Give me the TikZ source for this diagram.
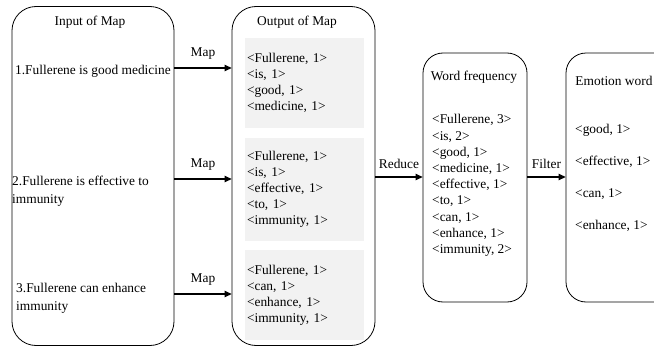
\documentclass[tikz,border=0pt]{standalone}
\usepackage{fontspec}
\setmainfont{Liberation Serif}
\usetikzlibrary{arrows.meta,positioning,calc}
\definecolor{boxline}{HTML}{000000}
\definecolor{pairgray}{HTML}{F2F2F2}
\tikzset{
  >={Triangle[length=7pt,width=6.5pt]},
  % kolumner
  col/.style={draw=boxline,line width=0.8pt,rounded corners=24pt,fill=white},
  colsm/.style={draw=boxline,line width=0.8pt,rounded corners=20pt,fill=white},
  ttl/.style={font=\fontsize{13.4}{16}\selectfont,inner sep=0pt},
  sent/.style={font=\fontsize{13.4}{18.5}\selectfont,align=left,inner sep=0pt,anchor=west},
  pairs/.style={fill=pairgray,draw=none,text width=115pt,inner xsep=2pt,
                align=left,font=\fontsize{13.4}{16}\selectfont},
  plist/.style={font=\fontsize{13.4}{16.2}\selectfont,align=left,inner sep=0pt,anchor=west},
  % pilar
  flow/.style={->,line width=1.2pt},
  fl/.style={font=\fontsize{13.4}{16}\selectfont,inner sep=0pt},
}
\begin{document}
\begin{tikzpicture}[x=1pt,y=-1pt]
\useasboundingbox (0,0) rectangle (654,348);
\clip (0,0) rectangle (654,348);
  \node[col,minimum width=162pt,minimum height=339pt] (inmap) at (93,176) {};
  \node[col,minimum width=143pt,minimum height=339pt] (outmap) at (303.5,176) {};
  \node[colsm,minimum width=104pt,minimum height=249pt] (wfreq) at (475,177.5) {};
  \node[colsm,minimum width=110pt,minimum height=249pt] (emo) at (621,177.5) {};
  % titlar
  \node[ttl] (tin) at (90,22) {Input of Map};
  \node[ttl] (tout) at (297,22) {Output of Map};
  \node[ttl] (twf) at (474,77) {Word frequency};
  \node[ttl] (temo) at (614,81) {Emotion word};
  % meningar
  \node[sent] (s1) at (15,71) {1.Fullerene is good medicine};
  \node[sent] (s2) at (12,191) {2.Fullerene is effective to\\immunity};
  \node[sent] (s3) at (16,298.5) {3.Fullerene can enhance\\immunity};
  % par
  \node[pairs,minimum height=90pt] (g1) at (304.5,83)
    {<Fullerene, 1>\\<is, 1>\\<good, 1>\\<medicine, 1>};
  \node[pairs,minimum height=103pt] (g2) at (304.5,189.5)
    {<Fullerene, 1>\\<is, 1>\\<effective, 1>\\<to, 1>\\<immunity, 1>};
  \node[pairs,minimum height=90pt] (g3) at (304.5,295)
    {<Fullerene, 1>\\<can, 1>\\<enhance, 1>\\<immunity, 1>};
  \node[plist] (cnt) at (432,185.5)
    {<Fullerene, 3>\\<is, 2>\\<good, 1>\\<medicine, 1>\\<effective, 1>\\<to, 1>\\<can, 1>\\<enhance, 1>\\<immunity, 2>};
  \node[plist,font=\fontsize{13.4}{32}\selectfont] (ew) at (575,177.5)
    {<good, 1>\\<effective, 1>\\<can, 1>\\<enhance, 1>};
  % pilar
  \coordinate (m1) at (0,68);
  \coordinate (m2) at (0,179);
  \coordinate (m3) at (0,294);
  \coordinate (rf) at (0,177);
  \draw[flow] (inmap.east |- m1) -- node[fl,above=8pt] {Map} (outmap.west |- m1);
  \draw[flow] (inmap.east |- m2) -- node[fl,above=8pt] {Map} (outmap.west |- m2);
  \draw[flow] (inmap.east |- m3) -- node[fl,above=8pt] {Map} (outmap.west |- m3);
  \draw[flow] (outmap.east |- rf) -- node[fl,above=8pt] {Reduce} (wfreq.west |- rf);
  \draw[flow] (wfreq.east |- rf) -- node[fl,above=8pt] {Filter} (emo.west |- rf);
\end{tikzpicture}
\end{document}
